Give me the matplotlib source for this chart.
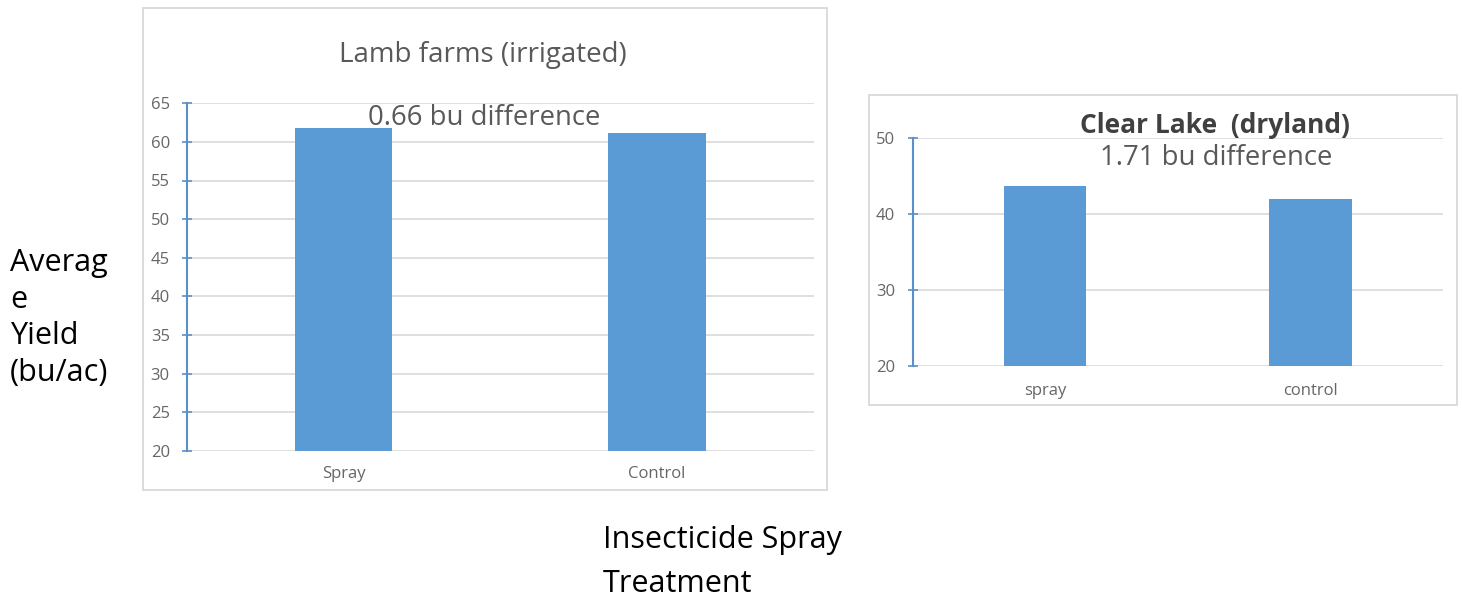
import matplotlib.pyplot as plt
from matplotlib.patches import Rectangle

# data
lamb_labels = ['Spray', 'Control']
lamb_yield = [61.80, 61.14]
lamb_ticks = [20, 25, 30, 35, 40, 45, 50, 55, 60, 65]

clear_labels = ['spray', 'control']
clear_yield = [43.70, 41.99]
clear_ticks = [20, 30, 40, 50]

ylabel_lines = ['Averag', 'e', 'Yield', '(bu/ac)']
xlabel_lines = ['Insecticide Spray', 'Treatment']

W, H = 1462, 597
bar_color = '#5b9bd5'
axis_blue = '#5b8fc7'
grid_gray = '#d9d9d9'
text_gray = '#595959'

plt.rcParams['font.family'] = ['Open Sans', 'DejaVu Sans']

fig = plt.figure(figsize=(W / 100, H / 100), dpi=100)


def fx(px):
    return px / W


def fy(py):
    return 1 - py / H


def box(x0, y0, x1, y1):
    fig.patches.append(Rectangle((fx(x0), fy(y1)), fx(x1) - fx(x0), fy(y0) - fy(y1),
                                 transform=fig.transFigure, fill=False,
                                 edgecolor=grid_gray, linewidth=1.3))


def style_axes(ax, ticks, labels, values, xpad):
    ax.bar(range(len(values)), values, width=0.31, color=bar_color, zorder=3)
    ax.set_xlim(-0.5, len(values) - 0.5)
    ax.set_ylim(ticks[0], ticks[-1])
    ax.set_yticks(ticks)
    ax.set_xticks(range(len(labels)))
    ax.set_xticklabels(labels)
    ax.yaxis.grid(True, color=grid_gray, linewidth=1.2, zorder=0)
    ax.set_axisbelow(True)
    for s in ['top', 'right', 'bottom']:
        ax.spines[s].set_visible(False)
    ax.spines['left'].set_color(axis_blue)
    ax.spines['left'].set_linewidth(1.5)
    ax.spines['left'].set_zorder(4)
    ax.tick_params(axis='y', direction='inout', length=7, width=1.2, color=axis_blue,
                   labelcolor='#666666', labelsize=12, pad=9)
    ax.tick_params(axis='x', length=0, labelcolor='#666666', labelsize=12, pad=xpad)


# left chart: Lamb farms
box(142.7, 8.3, 827, 490)
ax1 = fig.add_axes([fx(187.2), fy(450.7), fx(813.6) - fx(187.2), fy(103.3) - fy(450.7)])
style_axes(ax1, lamb_ticks, lamb_labels, lamb_yield, 11)
fig.text(fx(483), fy(62), 'Lamb farms (irrigated)', ha='center', va='baseline',
         fontsize=20, color=text_gray)
fig.text(fx(484.5), fy(125), '0.66 bu difference', ha='center', va='baseline',
         fontsize=19.8, color=text_gray)

# right chart: Clear Lake
box(869, 95, 1457, 405)
ax2 = fig.add_axes([fx(912.7), fy(366), fx(1443) - fx(912.7), fy(138.3) - fy(366)])
style_axes(ax2, clear_ticks, clear_labels, clear_yield, 12)
fig.text(fx(1215), fy(133), 'Clear Lake  (dryland)', ha='center', va='baseline',
         fontsize=19, fontweight='bold', color='#404040')
fig.text(fx(1216), fy(165), '1.71 bu difference', ha='center', va='baseline',
         fontsize=19.8, color=text_gray)

# slide-level axis titles, one text per line as on the slide
for i, line in enumerate(ylabel_lines):
    fig.text(fx(10), fy(271 + 36.5 * i), line, ha='left', va='baseline',
             fontsize=22, color='black')
for i, line in enumerate(xlabel_lines):
    fig.text(fx(603), fy(548 + 44 * i), line, ha='left', va='baseline',
             fontsize=22, color='black')

fig.savefig('out.png', dpi=100)
